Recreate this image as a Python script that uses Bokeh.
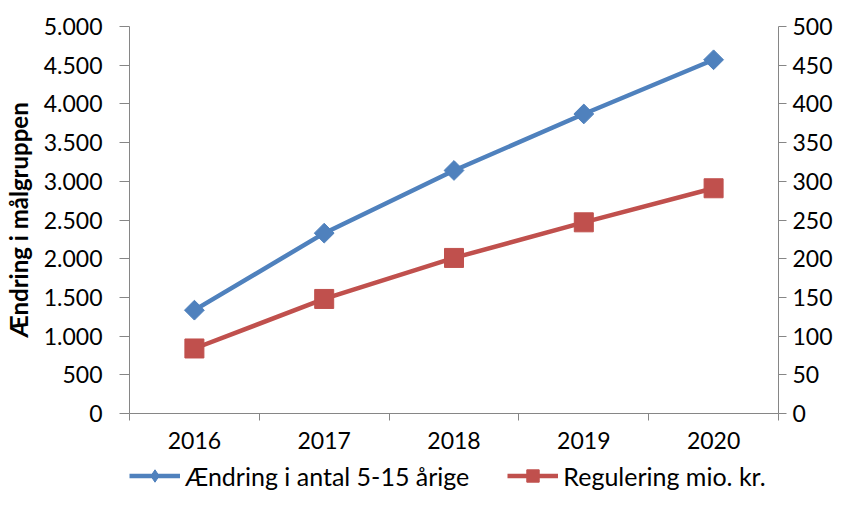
import math
from bokeh.plotting import figure
from bokeh.layouts import column
from bokeh.models import Range1d, LinearAxis, FixedTicker, Legend, LegendItem
from bokeh.embed import file_html
from bokeh.resources import INLINE

# ---- data ----
years = ["2016", "2017", "2018", "2019", "2020"]
change_5_15 = [1335, 2330, 3140, 3870, 4570]      # left axis
regulation_mio = [84, 148, 201, 247, 291]          # right axis
left_ticks = [0, 500, 1000, 1500, 2000, 2500, 3000, 3500, 4000, 4500, 5000]
right_ticks = [0, 50, 100, 150, 200, 250, 300, 350, 400, 450, 500]
series_labels = ["Ændring i antal 5-15 årige", "Regulering mio. kr."]
y_title = "Ændring i målgruppen"

BLUE = "#4F81BD"
RED = "#C0504D"
AXIS = "#868686"
FONT = "Lato"

x = list(range(1, len(years) + 1))

p = figure(width=835, height=460, output_backend="svg", toolbar_location=None,
           x_range=Range1d(0.5, len(years) + 0.5),
           y_range=Range1d(left_ticks[0], left_ticks[-1]),
           x_axis_location=None, y_axis_location=None,
           min_border_left=128, min_border_right=54,
           min_border_top=26, min_border_bottom=47)
p.extra_y_ranges = {"right": Range1d(right_ticks[0], right_ticks[-1])}
p.outline_line_color = None
p.background_fill_color = "white"
p.border_fill_color = "white"
for g in p.grid:
    g.visible = False


def style(ax):
    ax.axis_line_color = AXIS
    ax.axis_line_width = 1
    ax.major_tick_line_color = AXIS
    ax.major_tick_in = 0
    ax.major_tick_out = 9
    ax.minor_tick_line_color = None
    ax.major_label_text_font = FONT
    ax.major_label_text_font_size = "23px"
    ax.major_label_text_color = "black"


xaxis = LinearAxis(
    ticker=FixedTicker(ticks=x, minor_ticks=[i + 0.5 for i in range(len(years) + 1)]),
    major_label_overrides={xi: yr for xi, yr in zip(x, years)})
style(xaxis)
xaxis.major_tick_line_color = None
xaxis.major_tick_out = 7
xaxis.minor_tick_line_color = AXIS
xaxis.minor_tick_in = 0
xaxis.minor_tick_out = 7
xaxis.major_label_standoff = 11
p.add_layout(xaxis, "below")


def da(v):
    return f"{v:,}".replace(",", ".")


laxis = LinearAxis(ticker=FixedTicker(ticks=left_ticks),
                   major_label_overrides={t: da(t) for t in left_ticks},
                   axis_label=y_title)
style(laxis)
laxis.major_tick_out = 10
laxis.major_label_standoff = 17
laxis.axis_label_text_font = FONT
laxis.axis_label_text_font_style = "bold"
laxis.axis_label_text_font_size = "24px"
laxis.axis_label_text_color = "black"
laxis.axis_label_standoff = 8
p.add_layout(laxis, "left")

raxis = LinearAxis(y_range_name="right", ticker=FixedTicker(ticks=right_ticks))
style(raxis)
raxis.major_tick_out = 8
raxis.major_label_standoff = 6
p.add_layout(raxis, "right")

p.line(x, change_5_15, color=BLUE, line_width=4.5)
p.scatter(x, change_5_15, marker="square", angle=math.pi / 4, size=14, color=BLUE)
p.line(x, regulation_mio, color=RED, line_width=4.5, y_range_name="right")
p.scatter(x, regulation_mio, marker="square", size=19, color=RED, y_range_name="right")

# ---- legend strip below the chart ----
lf = figure(width=835, height=31, output_backend="svg", toolbar_location=None,
            x_range=Range1d(0.5, len(years) + 0.5),
            y_range=Range1d(left_ticks[0], left_ticks[-1]),
            x_axis_location=None, y_axis_location=None, min_border=0)
lf.extra_y_ranges = {"right": Range1d(right_ticks[0], right_ticks[-1])}
lf.outline_line_color = None
lf.background_fill_color = "white"
lf.border_fill_color = "white"
for g in lf.grid:
    g.visible = False

l_bl = lf.line(x, change_5_15, color=BLUE, line_width=4.5, visible=False)
l_bm = lf.scatter(x, change_5_15, marker="diamond", size=14, color=BLUE, visible=False)
l_rl = lf.line(x, regulation_mio, color=RED, line_width=4.5, visible=False,
               y_range_name="right")
l_rm = lf.scatter(x, regulation_mio, marker="square", size=19, color=RED, visible=False,
                  y_range_name="right")

legend = Legend(items=[LegendItem(label=series_labels[0], renderers=[l_bl, l_bm]),
                       LegendItem(label=series_labels[1], renderers=[l_rl, l_rm])],
                orientation="horizontal", location=(0, 0),
                glyph_width=51, glyph_height=31, label_standoff=5, spacing=38,
                padding=0, margin=0, border_line_color=None,
                background_fill_alpha=0,
                label_text_font=FONT, label_text_font_size="25px",
                label_text_color="black")
lf.add_layout(legend, "center")

layout = column(p, lf, spacing=0)
open("out.html", "w").write(file_html(layout, INLINE))
